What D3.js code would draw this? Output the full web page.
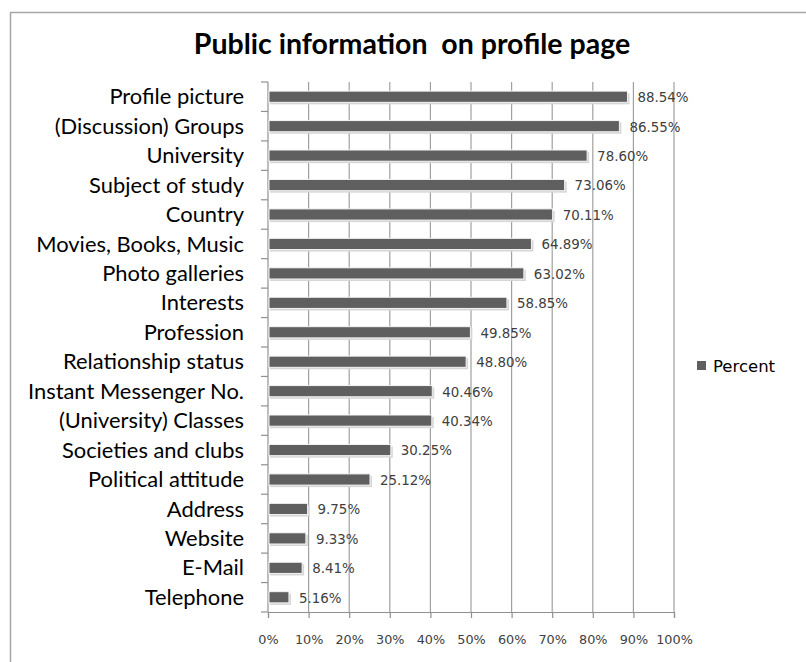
<!DOCTYPE html>
<html>
<head>
<meta charset="utf-8">
<script src="https://cdn.jsdelivr.net/npm/d3@7"></script>
<style>
  body { margin: 0; background: #fff; }
  svg { display: block; }
</style>
</head>
<body>
<div id="chart"></div>
<script>
// data
var categories = ["Profile picture", "(Discussion) Groups", "University", "Subject of study",
  "Country", "Movies, Books, Music", "Photo galleries", "Interests", "Profession",
  "Relationship status", "Instant Messenger No.", "(University) Classes",
  "Societies and clubs", "Political attitude", "Address", "Website", "E-Mail", "Telephone"];
var percent = [88.54, 86.55, 78.60, 73.06, 70.11, 64.89, 63.02, 58.85, 49.85,
  48.80, 40.46, 40.34, 30.25, 25.12, 9.75, 9.33, 8.41, 5.16];
var xTicks = [0, 10, 20, 30, 40, 50, 60, 70, 80, 90, 100];
var seriesName = "Percent";

var W = 806, H = 662;
var margin = {top: 82, right: 132, bottom: 50, left: 268};
var width = W - margin.left - margin.right;
var height = H - margin.top - margin.bottom;

var svg = d3.select('#chart').append('svg')
  .attr('width', W)
  .attr('height', H);

// outer chart border
svg.append('rect')
  .attr('x', 10.5).attr('y', 12.5)
  .attr('width', W + 20).attr('height', H + 20)
  .attr('fill', 'none').attr('stroke', '#a6a6a6').attr('stroke-width', 1.5);

svg.append('text')
  .attr('x', 412).attr('y', 54)
  .attr('text-anchor', 'middle')
  .style('white-space', 'pre')
  .style('font-family', 'Lato, "Open Sans", sans-serif')
  .style('font-weight', 'bold')
  .style('font-size', '28.5px')
  .attr('fill', '#000')
  .text('Public information  on profile page');

var g = svg.append('g')
  .attr('transform', 'translate(' + margin.left + ',' + margin.top + ')');

var x = d3.scaleLinear().domain([0, 100]).range([0, width]);
var y = d3.scaleBand().domain(categories).range([0, height]).paddingInner(0.62).paddingOuter(0.31);

// gridlines
g.append('g').selectAll('line')
  .data(xTicks.slice(1))
  .join('line')
  .attr('x1', d => x(d)).attr('x2', d => x(d))
  .attr('y1', 0).attr('y2', height)
  .attr('stroke', '#a0a0a0').attr('stroke-width', 1.2);

// x axis
var xAxis = g.append('g')
  .attr('transform', 'translate(0,' + height + ')')
  .call(d3.axisBottom(x).tickValues(xTicks).tickSize(6).tickPadding(17).tickFormat(d => d + '%'));
xAxis.select('.domain').attr('stroke', '#909090').attr('stroke-width', 1.2);
xAxis.selectAll('.tick line').attr('stroke', '#909090').attr('stroke-width', 1.2);
xAxis.selectAll('text')
  .style('font-family', '"DejaVu Sans", Verdana, sans-serif')
  .style('font-size', '12.8px')
  .attr('fill', '#404040');

// y axis with ticks between categories
var step = y.step();
var yAxis = g.append('g');
yAxis.append('line')
  .attr('x1', 0).attr('x2', 0).attr('y1', 0).attr('y2', height)
  .attr('stroke', '#909090').attr('stroke-width', 1.2);
yAxis.selectAll('line.tk')
  .data(d3.range(categories.length + 1))
  .join('line').attr('class', 'tk')
  .attr('x1', -7).attr('x2', 0)
  .attr('y1', i => i * step).attr('y2', i => i * step)
  .attr('stroke', '#909090').attr('stroke-width', 1.2);
yAxis.selectAll('text')
  .data(categories)
  .join('text')
  .attr('x', -24)
  .attr('y', d => y(d) + y.bandwidth() / 2)
  .attr('dy', '0.35em')
  .attr('text-anchor', 'end')
  .style('font-family', 'Lato, "Open Sans", sans-serif')
  .style('font-size', '21.9px')
  .attr('fill', '#000')
  .text(d => d);

var rows = categories.map((c, i) => ({cat: c, val: percent[i]}));

// shadows
g.append('g').selectAll('rect')
  .data(rows)
  .join('rect')
  .attr('x', 2).attr('y', d => y(d.cat) + 2)
  .attr('width', d => x(d.val)).attr('height', y.bandwidth())
  .attr('fill', '#d6d6d6');

g.append('g').selectAll('rect')
  .data(rows)
  .join('rect')
  .attr('x', 1).attr('y', d => y(d.cat))
  .attr('width', d => x(d.val) - 1).attr('height', y.bandwidth())
  .attr('fill', '#5f5f5f')
  .attr('stroke', '#f4f4f4').attr('stroke-width', 1);

g.append('g').selectAll('text')
  .data(rows)
  .join('text')
  .attr('x', d => x(d.val) + 10)
  .attr('y', d => y(d.cat) + y.bandwidth() / 2)
  .attr('dy', '0.4em')
  .style('font-family', '"DejaVu Sans", Verdana, sans-serif')
  .style('font-size', '13.4px')
  .attr('fill', '#404040')
  .text(d => d.val.toFixed(2) + '%');

// legend
var leg = svg.append('g').attr('transform', 'translate(697,361)');
leg.append('rect').attr('width', 9).attr('height', 9).attr('fill', '#5f5f5f');
leg.append('text')
  .attr('x', 16).attr('y', 5).attr('dy', '0.35em')
  .style('font-family', '"DejaVu Sans", Verdana, sans-serif')
  .style('font-size', '16.5px')
  .attr('fill', '#000')
  .text(seriesName);
</script>
</body>
</html>
